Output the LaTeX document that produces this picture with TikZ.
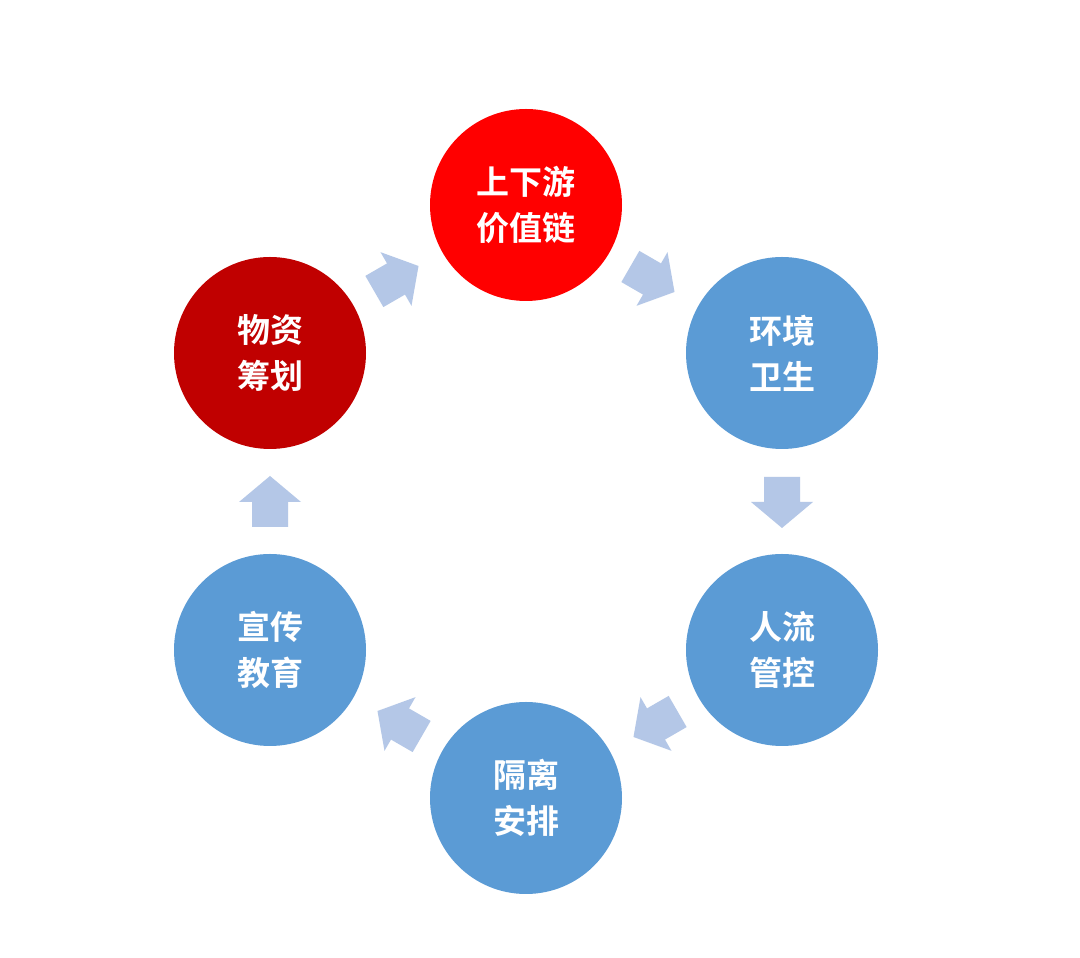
\documentclass[tikz,border=0pt]{standalone}
\usepackage{fontspec}
\newfontfamily\cjk{Noto Sans CJK SC}[BoldFont={Noto Sans CJK SC Bold}]
\definecolor{cblue}{HTML}{5B9BD5}
\definecolor{cred}{HTML}{FF0000}
\definecolor{cdred}{HTML}{C00000}
\definecolor{carrow}{HTML}{B4C7E7}
\tikzset{
 stage/.style={circle,minimum size=192pt,inner sep=0pt,text=white,align=center,font=\cjk\bfseries\fontsize{33pt}{46pt}\selectfont},
 flowarrow/.pic={\fill[carrow] (-25,-18)--(0,-18)--(0,-31)--(26,0)--(0,31)--(0,18)--(-25,18)--cycle;}
}
\begin{document}
\begin{tikzpicture}[x=1pt,y=1pt]
\useasboundingbox[fill=white] (0,0) rectangle (1080,958);
\node[stage,fill=cred] (a) at (526,753) {上下游\\价值链};
\node[stage,fill=cblue] (b) at (782,605) {环境\\卫生};
\node[stage,fill=cblue] (c) at (782,308) {人流\\管控};
\node[stage,fill=cblue] (d) at (526,160) {隔离\\安排};
\node[stage,fill=cblue] (e) at (270,308) {宣传\\教育};
\node[stage,fill=cdred] (f) at (270,605) {物资\\筹划};
\pic[rotate=-30] at (652,679) {flowarrow};
\pic[rotate=-90] at (782,456) {flowarrow};
\pic[rotate=-150] at (656,234) {flowarrow};
\pic[rotate=150] at (400,234) {flowarrow};
\pic[rotate=90] at (270,456) {flowarrow};
\pic[rotate=30] at (396,679) {flowarrow};
\end{tikzpicture}
\end{document}
